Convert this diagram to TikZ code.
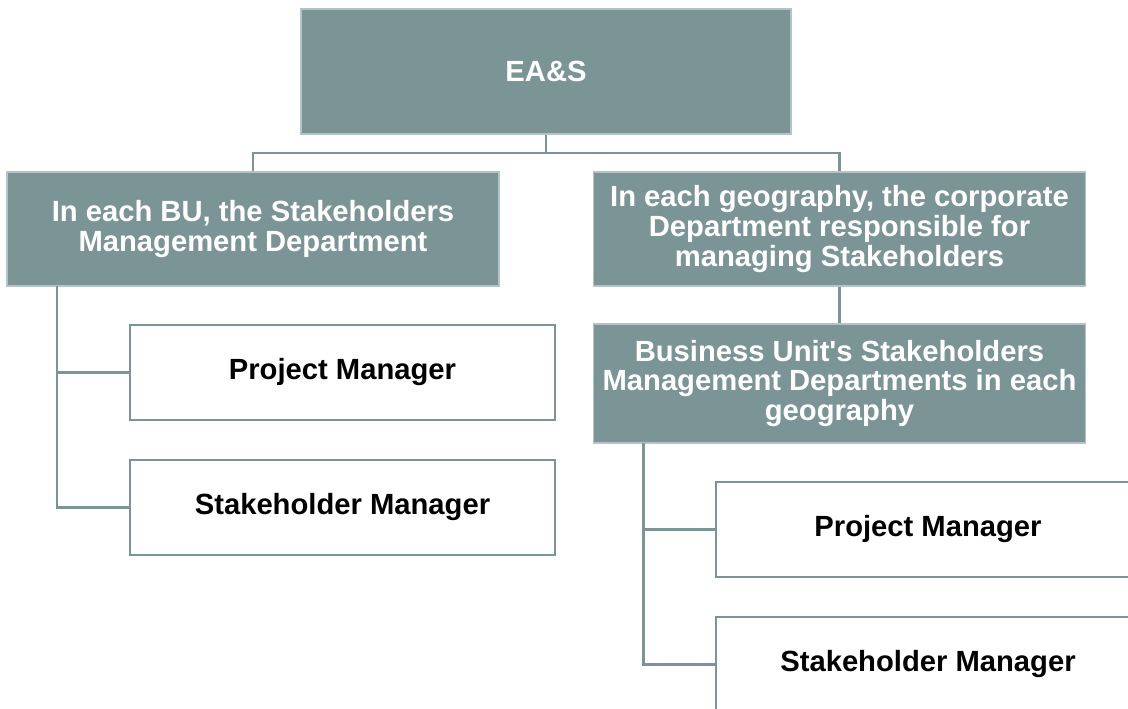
\documentclass[tikz,border=0pt]{standalone}
\usepackage{fontspec}
\setmainfont{Liberation Sans}[Ligatures=TeXOff]
\definecolor{slate}{RGB}{123,149,151}
\definecolor{slateedge}{RGB}{178,196,197}
\begin{document}
\begin{tikzpicture}[x=0.75pt,y=-0.75pt,
  darkbox/.style={rectangle,fill=slate,draw=slateedge,line width=1.2pt,inner sep=0pt,
    text=white,align=center,font=\fontsize{21.9pt}{22.4pt}\selectfont\bfseries},
  lightbox/.style={rectangle,fill=white,draw=slate,line width=1.8pt,inner sep=0pt,
    text=black,align=center,font=\fontsize{21.9pt}{22.4pt}\selectfont\bfseries},
  link/.style={draw=slate,line width=1.9pt}]
\useasboundingbox (0,0) rectangle (1128,708);
\clip (0,0) rectangle (1128,708);
\node[darkbox,minimum width=490*0.75pt,minimum height=125*0.75pt] (top) at (546,71.5) {EA\&S};
\node[darkbox,minimum width=492*0.75pt,minimum height=114*0.75pt] (L1) at (253,229) {In each BU, the Stakeholders\\Management Department};
\node[darkbox,minimum width=492*0.75pt,minimum height=114*0.75pt] (R1) at (839.5,229) {In each geography, the corporate\\Department responsible for\\managing Stakeholders};
\node[lightbox,minimum width=425*0.75pt,minimum height=95*0.75pt] (PML) at (342.5,372.5) {Project Manager};
\node[lightbox,minimum width=425*0.75pt,minimum height=95*0.75pt] (SML) at (342.5,507.5) {Stakeholder Manager};
\node[darkbox,minimum width=492*0.75pt,minimum height=119*0.75pt] (BU) at (839.5,383.5) {Business Unit's Stakeholders\\Management Departments in each\\geography};
\node[lightbox,minimum width=424*0.75pt,minimum height=95*0.75pt] (PMR) at (928,529.5) {Project Manager};
\node[lightbox,minimum width=424*0.75pt,minimum height=95*0.75pt] (SMR) at (928,664.5) {Stakeholder Manager};
\coordinate (hub) at (546,153);
\coordinate (lt) at (57,286);
\coordinate (bt) at (643.5,443);
\draw[link] (top.south) -- (hub);
\draw[link] (hub) -| (L1.north);
\draw[link] (hub) -| (R1.north);
\draw[link] (lt) |- (PML.west);
\draw[link] (lt) |- (SML.west);
\draw[link] (R1.south) -- (BU.north);
\draw[link] (bt) |- (PMR.west);
\draw[link] (bt) |- (SMR.west);
\end{tikzpicture}
\end{document}
